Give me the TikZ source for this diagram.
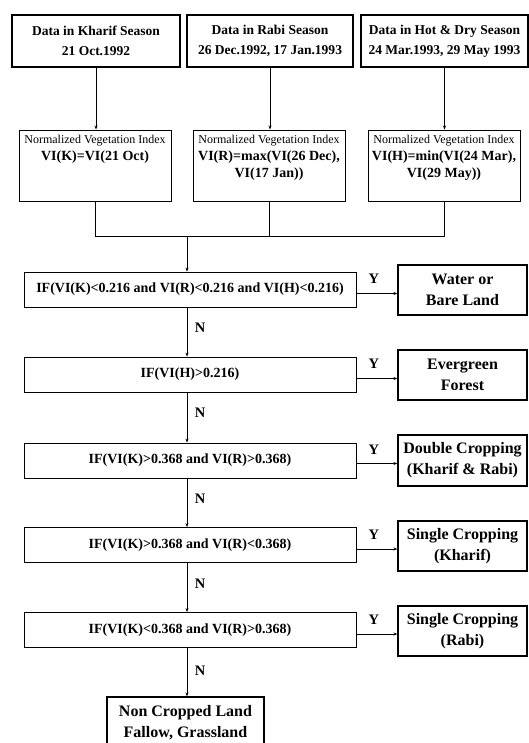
\documentclass[tikz,border=0pt]{standalone}
\usepackage{fontspec}
\setmainfont{Liberation Serif}
\usetikzlibrary{arrows.meta}
\newcommand{\vitext}[2]{\parbox[c][71pt][t]{152pt}{\centering\fontsize{12}{17}\selectfont\rule{0pt}{13.5pt}#1\\ \fontsize{14}{17}\selectfont\bfseries #2\par}}
\begin{document}
\begin{tikzpicture}[x=1pt,y=-1pt,
  box/.style={draw, line width=0.8pt, inner sep=0pt, align=center},
  topbox/.style={box, line width=1.2pt, minimum height=52pt, font=\fontsize{13.5}{20}\selectfont\bfseries},
  vibox/.style={box, line width=0.9pt},
  condbox/.style={box, minimum width=332pt, minimum height=35pt, font=\fontsize{14}{17}\selectfont\bfseries},
  resbox/.style={box, line width=1.2pt, minimum width=129pt, font=\fontsize{16}{21}\selectfont\bfseries},
  lbl/.style={font=\fontsize{14.5}{17}\selectfont\bfseries, inner sep=0pt},
  conn/.style={line width=0.7pt},
  arr/.style={conn, -{Stealth[length=4pt,width=3pt]}}]
\useasboundingbox (0,0) rectangle (529,743);

% top data boxes
\node[topbox, minimum width=168pt] (d1) at (96,41) {Data in Kharif Season\\21 Oct.1992};
\node[topbox, minimum width=166pt] (d2) at (270,41) {Data in Rabi Season\\26 Dec.1992, 17 Jan.1993};
\node[topbox, minimum width=167pt] (d3) at (444.5,41) {Data in Hot \& Dry Season\\24 Mar.1993, 29 May 1993};

% vegetation index boxes
\node[vibox] (v1) at (95,165.5) {\vitext{Normalized Vegetation Index}{VI(K)=VI(21 Oct)}};
\node[vibox] (v2) at (269,165.5) {\vitext{Normalized Vegetation Index}{VI(R)=max(VI(26 Dec),\\VI(17 Jan))}};
\node[vibox] (v3) at (444,165.5) {\vitext{Normalized Vegetation Index}{VI(H)=min(VI(24 Mar),\\VI(29 May))}};

\draw[arr] (d1.south) -- (d1.south |- v1.north);
\draw[arr] (d2.south) -- (d2.south |- v2.north);
\draw[arr] (d3.south) -- (d3.south |- v3.north);

% merge
\coordinate (m) at (187,236);
\draw[conn] (v1.south) -- (v1.south |- m) -- (v3.south |- m) -- (v3.south);
\draw[conn] (v2.south) -- (v2.south |- m);

% conditions
\node[condbox] (c1) at (190,289.5) {IF(VI(K)<0.216 and VI(R)<0.216 and VI(H)<0.216)};
\node[condbox] (c2) at (190,374.5) {IF(VI(H)>0.216)};
\node[condbox] (c3) at (190,460.5) {IF(VI(K)>0.368 and VI(R)>0.368)};
\node[condbox] (c4) at (190,545) {IF(VI(K)>0.368 and VI(R)<0.368)};
\node[condbox] (c5) at (190,630) {IF(VI(K)<0.368 and VI(R)>0.368)};

% results
\node[resbox, minimum height=50pt] (r1) at (462.5,290) {Water or\\Bare Land};
\node[resbox, minimum height=50pt] (r2) at (462.5,375) {Evergreen\\Forest};
\node[resbox, minimum height=51pt] (r3) at (462.5,460.5) {Double Cropping\\(Kharif \& Rabi)};
\node[resbox, minimum height=50pt] (r4) at (462.5,546) {Single Cropping\\(Kharif)};
\node[resbox, minimum height=50pt] (r5) at (462.5,631) {Single Cropping\\(Rabi)};
\node[resbox, minimum width=157pt, minimum height=52pt] (f) at (185.5,723) {Non Cropped Land\\Fallow, Grassland};

% vertical flow
\draw[arr] (m) -- (m |- c1.north);
\draw[arr] (c1.south -| m) -- (c2.north -| m) node[lbl, midway, xshift=13pt, yshift=4pt] {N};
\draw[arr] (c2.south -| m) -- (c3.north -| m) node[lbl, midway, xshift=13pt, yshift=5pt] {N};
\draw[arr] (c3.south -| m) -- (c4.north -| m) node[lbl, midway, xshift=13pt, yshift=4pt] {N};
\draw[arr] (c4.south -| m) -- (c5.north -| m) node[lbl, midway, xshift=13pt, yshift=4pt] {N};
\draw[arr] (c5.south -| m) -- (f.north -| m) node[lbl, midway, xshift=13pt, yshift=1pt] {N};

% yes branches
\draw[arr] ([yshift=-4pt]c1.east) -- ([yshift=-4pt]c1.east -| r1.west) node[lbl, midway, xshift=-3pt, yshift=15pt] {Y};
\draw[arr] ([yshift=-4pt]c2.east) -- ([yshift=-4pt]c2.east -| r2.west) node[lbl, midway, xshift=-3pt, yshift=15pt] {Y};
\draw[arr] ([yshift=-3pt]c3.east) -- ([yshift=-3pt]c3.east -| r3.west) node[lbl, midway, xshift=-3pt, yshift=14pt] {Y};
\draw[arr] ([yshift=-4pt]c4.east) -- ([yshift=-4pt]c4.east -| r4.west) node[lbl, midway, xshift=-3pt, yshift=14pt] {Y};
\draw[arr] ([yshift=-4pt]c5.east) -- ([yshift=-4pt]c5.east -| r5.west) node[lbl, midway, xshift=-3pt, yshift=14pt] {Y};
\end{tikzpicture}
\end{document}
